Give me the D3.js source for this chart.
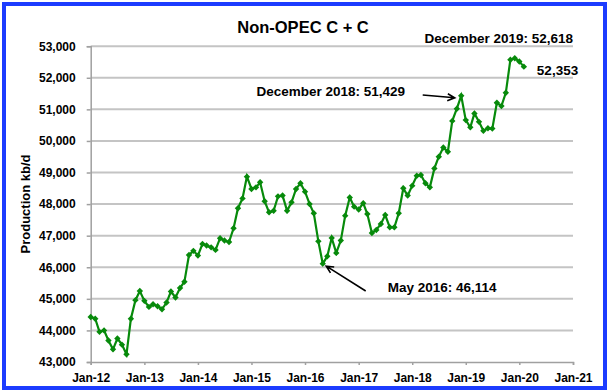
<!DOCTYPE html>
<html>
<head>
<meta charset="utf-8">
<script src="https://cdn.jsdelivr.net/npm/d3@7"></script>
<style>
  body { margin: 0; background: #fff; }
  svg text { font-family: "Liberation Sans", Arial, sans-serif; font-weight: bold; fill: #000; }
</style>
</head>
<body>
<div id="chart"></div>
<script>
//////////////////////////////////////////////////////////////
///////////////////////// Data ///////////////////////////////
//////////////////////////////////////////////////////////////

// Monthly Non-OPEC C + C production (kb/d), Jan 2012 .. Feb 2020
var firstMonth = new Date(2012, 0, 1);
var production = [
    44425, 44370, 43955, 44000, 43680, 43400, 43745, 43550, 43243, 44370, 44958, 45246, // 2012
    44936, 44744, 44830, 44766, 44670, 44882, 45233, 45042, 45342, 45543, 46390, 46520, // 2013
    46370, 46740, 46690, 46630, 46550, 46920, 46845, 46800, 47235, 47870, 48180, 48870, // 2014
    48480, 48530, 48690, 48090, 47740, 47790, 48245, 48270, 47790, 48055, 48480, 48660, // 2015
    48395, 48005, 47710, 46820, 46114, 46350, 46930, 46455, 46845, 47635, 48210, 47920, // 2016
    47830, 48030, 47685, 47085, 47180, 47370, 47655, 47265, 47265, 47710, 48500, 48270, // 2017
    48585, 48900, 48920, 48660, 48530, 49130, 49500, 49790, 49660, 50635, 51020, 51429, // 2018
    50660, 50430, 50870, 50605, 50320, 50400, 50390, 51210, 51105, 51525, 52570, 52618, // 2019
    52515, 52353                                                                        // 2020
];

var xTickLabels = ["Jan-12", "Jan-13", "Jan-14", "Jan-15", "Jan-16", "Jan-17", "Jan-18", "Jan-19", "Jan-20", "Jan-21"];
var yTickValues = [43000, 44000, 45000, 46000, 47000, 48000, 49000, 50000, 51000, 52000, 53000];

var data = production.map(function(v, i) {
    return { date: d3.timeMonth.offset(firstMonth, i), value: v };
});

//////////////////////////////////////////////////////////////
///////////////////// General settings ///////////////////////
//////////////////////////////////////////////////////////////

var width = 607;
var height = 391;
var plot = {left: 90.7, right: 573, top: 46.2, bottom: 362};

var green = "#078a0b";
var gridColor = "#c4c4c4";

var svg = d3.select("#chart").append("svg")
    .attr("width", width)
    .attr("height", height);

//Blue frame
svg.append("rect")
    .attr("x", 4)
    .attr("y", 4)
    .attr("width", width - 6)
    .attr("height", height - 7)
    .attr("fill", "#fff")
    .attr("stroke", "#1c3cff")
    .attr("stroke-width", 4);

//////////////////////////////////////////////////////////////
///////////////////// Scales & Axes //////////////////////////
//////////////////////////////////////////////////////////////

var xScale = d3.scaleTime()
    .domain([new Date(2012, 0, 1), new Date(2021, 0, 1)])
    .range([plot.left, plot.right]);

var yScale = d3.scaleLinear()
    .domain([43000, 53000])
    .range([plot.bottom, plot.top]);

var xTicks = xTickLabels.map(function(d, i) { return new Date(2012 + i, 0, 1); });

//Gridlines
svg.append("g")
    .attr("class", "grid")
    .selectAll("line")
    .data(yTickValues.slice(1)).enter()
    .append("line")
        .attr("x1", plot.left)
        .attr("x2", plot.right)
        .attr("y1", function(d) { return yScale(d); })
        .attr("y2", function(d) { return yScale(d); })
        .attr("stroke", gridColor)
        .attr("stroke-width", 2);

//Y axis
var yAxis = d3.axisLeft(yScale)
    .tickValues(yTickValues)
    .tickSize(4)
    .tickPadding(11)
    .tickFormat(d3.format(",d"));

var gY = svg.append("g")
    .attr("transform", "translate(" + plot.left + ",0)")
    .call(yAxis);
gY.select(".domain").attr("stroke", "#a0a0a0").attr("stroke-width", 1.5);
gY.selectAll(".tick line").attr("stroke", "#a0a0a0").attr("stroke-width", 1.5);
gY.selectAll(".tick text")
    .style("font-size", "12px")
    .style("font-family", "'Liberation Sans', Arial, sans-serif")
    .style("font-weight", "bold");

//X axis
var xAxis = d3.axisBottom(xScale)
    .tickValues(xTicks)
    .tickSize(3)
    .tickPadding(8)
    .tickFormat(function(d, i) { return xTickLabels[i]; });

var gX = svg.append("g")
    .attr("transform", "translate(0," + plot.bottom + ")")
    .call(xAxis);
gX.select(".domain").attr("stroke", "#a0a0a0").attr("stroke-width", 1.5);
gX.selectAll(".tick line").attr("stroke", "#a0a0a0").attr("stroke-width", 1.5);
gX.selectAll(".tick text")
    .style("font-size", "12px")
    .style("font-family", "'Liberation Sans', Arial, sans-serif")
    .style("font-weight", "bold");

//Y axis title
svg.append("text")
    .attr("transform", "translate(30," + 204 + ") rotate(-90)")
    .attr("text-anchor", "middle")
    .style("font-size", "13px")
    .text("Production kb/d");

//Chart title
svg.append("text")
    .attr("x", 303)
    .attr("y", 33)
    .attr("text-anchor", "middle")
    .style("font-size", "16.5px")
    .text("Non-OPEC C + C");

//////////////////////////////////////////////////////////////
////////////////////// Series ////////////////////////////////
//////////////////////////////////////////////////////////////

var line = d3.line()
    .x(function(d) { return xScale(d.date); })
    .y(function(d) { return yScale(d.value); });

svg.append("path")
    .datum(data)
    .attr("d", line)
    .attr("fill", "none")
    .attr("stroke", green)
    .attr("stroke-width", 2.2);

var r = 3.2;
svg.append("g")
    .selectAll("path")
    .data(data).enter()
    .append("path")
        .attr("transform", function(d) { return "translate(" + xScale(d.date) + "," + yScale(d.value) + ")"; })
        .attr("d", "M0," + (-r) + "L" + r + ",0L0," + r + "L" + (-r) + ",0Z")
        .attr("fill", green);

//////////////////////////////////////////////////////////////
//////////////////// Annotations /////////////////////////////
//////////////////////////////////////////////////////////////

function pointAt(i) {
    return [xScale(data[i].date), yScale(data[i].value)];
}
var fmt = d3.format(",d");
var monthName = d3.timeFormat("%B %Y");

function arrow(x1, y1, x2, y2) {
    var a = Math.atan2(y2 - y1, x2 - x1), h = 8, s = 0.45;
    svg.append("path")
        .attr("d", "M" + x1 + "," + y1 + "L" + x2 + "," + y2 +
            "M" + (x2 - h * Math.cos(a - s)) + "," + (y2 - h * Math.sin(a - s)) +
            "L" + x2 + "," + y2 +
            "L" + (x2 - h * Math.cos(a + s)) + "," + (y2 - h * Math.sin(a + s)))
        .attr("fill", "none")
        .attr("stroke", "#000")
        .attr("stroke-width", 1.6);
}

var iMay16 = 52, iDec18 = 83, iDec19 = 95, iLast = production.length - 1;

//December 2019 peak
svg.append("text")
    .attr("x", plot.right)
    .attr("y", 43)
    .attr("text-anchor", "end")
    .style("font-size", "13.5px")
    .text(monthName(data[iDec19].date) + ": " + fmt(data[iDec19].value));

//Latest value
var pLast = pointAt(iLast);
svg.append("text")
    .attr("x", pLast[0] + 13)
    .attr("y", pLast[1] + 8)
    .style("font-size", "13.5px")
    .text(fmt(data[iLast].value));

//December 2018
var pDec18 = pointAt(iDec18);
svg.append("text")
    .attr("x", 256.5)
    .attr("y", 95.7)
    .style("font-size", "13.5px")
    .text(monthName(data[iDec18].date) + ": " + fmt(data[iDec18].value));
arrow(422.7, 95, pDec18[0] - 6.5, pDec18[1] + 2);

//May 2016
var pMay16 = pointAt(iMay16);
svg.append("text")
    .attr("x", 387.7)
    .attr("y", 291.7)
    .style("font-size", "13.5px")
    .text(d3.timeFormat("%b %Y")(data[iMay16].date) + ": " + fmt(data[iMay16].value));
arrow(365.7, 291, pMay16[0] + 3.5, pMay16[1] + 2.5);
</script>
</body>
</html>
